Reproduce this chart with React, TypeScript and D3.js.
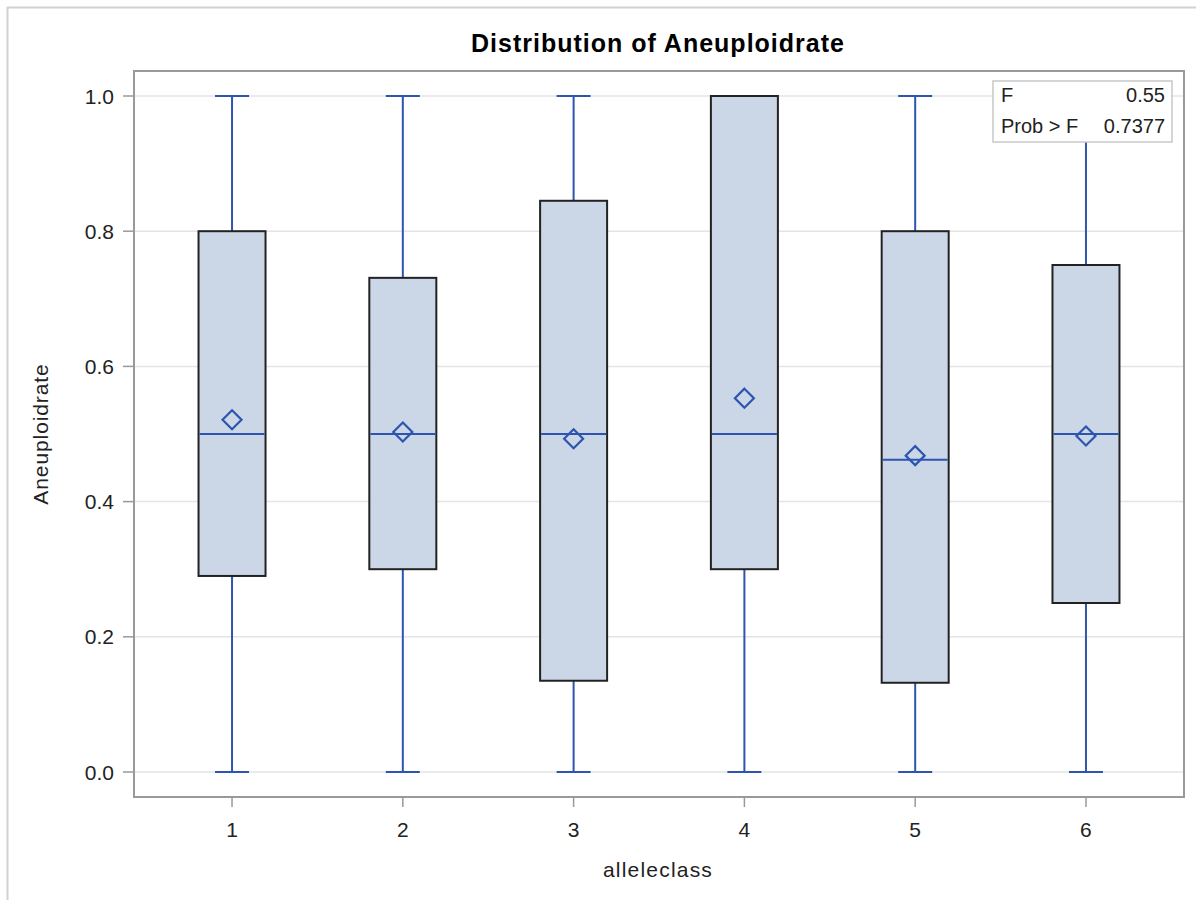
import React from "react";
import * as d3 from "d3";

// data
const categories = ["1", "2", "3", "4", "5", "6"];
const minValues = [0, 0, 0, 0, 0, 0];
const q1Values = [0.29, 0.3, 0.135, 0.3, 0.132, 0.25];
const medianValues = [0.5, 0.5, 0.5, 0.5, 0.462, 0.5];
const q3Values = [0.8, 0.731, 0.845, 1.0, 0.8, 0.75];
const maxValues = [1, 1, 1, 1, 1, 1];
const meanValues = [0.521, 0.503, 0.493, 0.553, 0.468, 0.497];
const yTicks = [0, 0.2, 0.4, 0.6, 0.8, 1.0];
const statLabels = ["F", "Prob > F"];
const statValues = ["0.55", "0.7377"];

const App = () => {
  //constants
  const width = 1196;
  const height = 900;
  const left = 134;
  const right = 1184;
  const top = 71;
  const bottom = 797;
  const font = "'Liberation Sans', Arial, sans-serif";
  const blue = "#2d55b0";
  const boxW = 67;
  const capW = 34;

  //scales
  const xScale = d3.scalePoint().domain(categories).range([left, right]).padding(0.574);
  const yScale = d3.scaleLinear().domain([0, 1]).range([772, 96]);

  const boxes = categories.map((c, i) => {
    const cx = xScale(c) as number;
    const yMin = yScale(minValues[i]);
    const yQ1 = yScale(q1Values[i]);
    const yMed = yScale(medianValues[i]);
    const yQ3 = yScale(q3Values[i]);
    const yMax = yScale(maxValues[i]);
    const yMean = yScale(meanValues[i]);
    const d = 9.5;
    return (
      <g key={c}>
        <line x1={cx} x2={cx} y1={yQ3} y2={yMax} stroke={blue} strokeWidth={2} />
        <line x1={cx} x2={cx} y1={yQ1} y2={yMin} stroke={blue} strokeWidth={2} />
        <line x1={cx - capW / 2} x2={cx + capW / 2} y1={yMax} y2={yMax} stroke={blue} strokeWidth={2} />
        <line x1={cx - capW / 2} x2={cx + capW / 2} y1={yMin} y2={yMin} stroke={blue} strokeWidth={2} />
        <rect x={cx - boxW / 2} y={yQ3} width={boxW} height={yQ1 - yQ3} fill="#cbd6e7" stroke="#222" strokeWidth={2} />
        <line x1={cx - boxW / 2 + 1} x2={cx + boxW / 2 - 1} y1={yMed} y2={yMed} stroke={blue} strokeWidth={2} />
        <path
          d={`M${cx},${yMean - d} L${cx + d},${yMean} L${cx},${yMean + d} L${cx - d},${yMean} Z`}
          fill="none"
          stroke={blue}
          strokeWidth={2.2}
        />
      </g>
    );
  });

  return (
    <svg width={width} height={height} style={{ position: "absolute", left: 0, top: 0 }}>
      <rect x={7.5} y={7.5} width={1200} height={900} fill="#fff" stroke="#d2d2d2" strokeWidth={2} />
      <text x={658} y={52} textAnchor="middle" fontFamily={font} fontWeight="bold" fontSize={25} letterSpacing={1}>
        Distribution of Aneuploidrate
      </text>
      {yTicks.map((t) => (
        <g key={t}>
          <line x1={left} x2={right} y1={yScale(t)} y2={yScale(t)} stroke="#e4e4e4" strokeWidth={1.5} />
          <line x1={left - 11} x2={left} y1={yScale(t)} y2={yScale(t)} stroke="#999" strokeWidth={1.5} />
          <text x={114} y={yScale(t) + 7.5} textAnchor="end" fontFamily={font} fontSize={21} fill="#222">
            {t.toFixed(1)}
          </text>
        </g>
      ))}
      {categories.map((c) => (
        <g key={c}>
          <line x1={xScale(c)} x2={xScale(c)} y1={bottom} y2={bottom + 10} stroke="#999" strokeWidth={1.5} />
          <text x={xScale(c)} y={837} textAnchor="middle" fontFamily={font} fontSize={21} fill="#222">
            {c}
          </text>
        </g>
      ))}
      {boxes}
      <rect x={left} y={top} width={right - left} height={bottom - top} fill="none" stroke="#999" strokeWidth={2} />
      <g>
        <rect x={993} y={81} width={179} height={61} fill="#fff" stroke="#c8c8c8" strokeWidth={1.5} />
        {statLabels.map((s, i) => (
          <g key={s}>
            <text x={1001} y={102 + i * 31} fontFamily={font} fontSize={20} fill="#222">
              {s}
            </text>
            <text x={1165} y={102 + i * 31} textAnchor="end" fontFamily={font} fontSize={20} fill="#222">
              {statValues[i]}
            </text>
          </g>
        ))}
      </g>
      <text x={658} y={877} textAnchor="middle" fontFamily={font} fontSize={21} letterSpacing={1.2} fill="#222">
        alleleclass
      </text>
      <text
        transform={`translate(48,434) rotate(-90)`}
        textAnchor="middle"
        fontFamily={font}
        fontSize={21}
        letterSpacing={0.9}
        fill="#222"
      >
        Aneuploidrate
      </text>
    </svg>
  );
};

export default App;
